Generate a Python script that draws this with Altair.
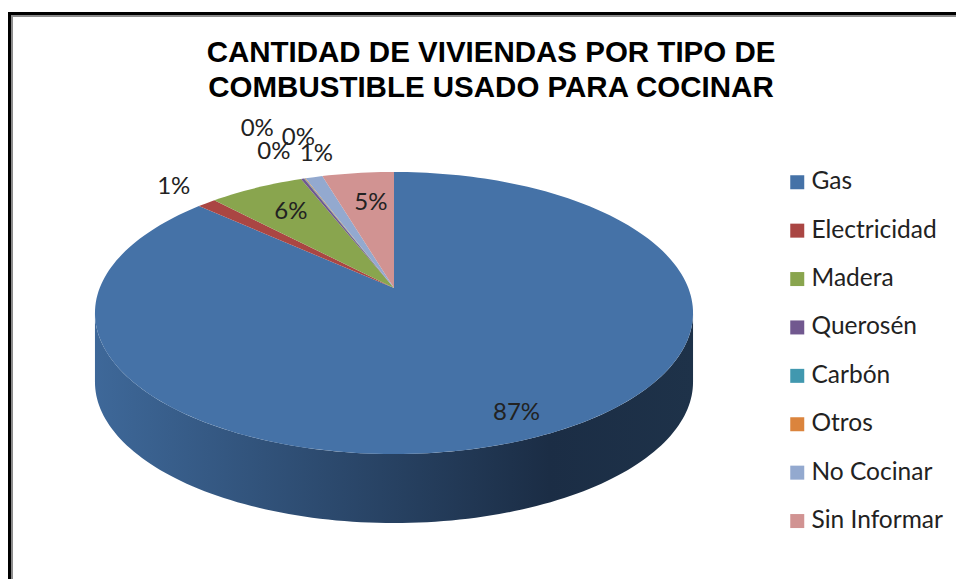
import math
import altair as alt

categories = ["Gas", "Electricidad", "Madera", "Querosén", "Carbón", "Otros", "No Cocinar", "Sin Informar"]
shares = [86.7, 1.2, 6.1, 0.2, 0.05, 0.05, 1.1, 4.6]
labels = ["87%", "1%", "6%", "0%", "0%", "0%", "1%", "5%"]
colors = ["#4572a7", "#aa4643", "#89a54e", "#71588f", "#4198af", "#db843d", "#93a9cf", "#d19392"]

# layout of the tilted pie (plot-area pixels; the page margin is 8px)
CX, CY = 386.0, 280.0
SX, SY, P = 294.3, 136.6, 0.1773
DEPTH = 69
label_radius = [0.86, 1.22, 0.74, 1.60, 1.32, 1.44, 1.25, 0.72]
label_shift = [-0.7, 0.7, 0.8, -0.3, -1.3, 4.3, 3.7, 1.2]


def project(angle_deg, r=1.0):
    a = math.radians(angle_deg)
    X, Y = r * math.sin(a), r * math.cos(a)
    d = 1 + P * Y
    return [CX + SX * X / d, CY - SY * Y / d]


features = []
label_rows = []
start = 0.0
for i, name in enumerate(categories):
    end = start + shares[i]
    a0, a1 = start * 3.6, end * 3.6
    n = max(2, int((a1 - a0) / 1.5))
    ring = [[CX, CY]] + [project(a0 + (a1 - a0) * k / n) for k in range(n + 1)] + [[CX, CY]]
    features.append({"type": "Feature", "properties": {"name": name},
                     "geometry": {"type": "Polygon", "coordinates": [ring]}})
    lon, lat = project((a0 + a1) / 2 + label_shift[i], label_radius[i])
    label_rows.append({"lon": lon, "lat": lat, "label": labels[i]})
    start = end

edge = math.degrees(math.acos(-P))
steps = 120
front = [project(edge + (360 - 2 * edge) * k / steps) for k in range(steps + 1)]
back = [[x, y + DEPTH] for x, y in reversed(front)]
side_ring = front + back + [front[0]]
side_feature = {"type": "Feature", "properties": {"name": "lado"},
                "geometry": {"type": "Polygon", "coordinates": [side_ring]}}

proj = dict(type="identity", scale=1, translate=[0, 0])
FONT = "Lato"

side = alt.Chart(alt.InlineData(values={"type": "FeatureCollection", "features": [side_feature]},
                                format=alt.DataFormat(property="features", type="json"))).mark_geoshape(
    strokeWidth=0,
    fill=alt.Gradient(gradient="linear", x1=0, x2=1, y1=0, y2=0, stops=[
        alt.GradientStop(color="#3e6899", offset=0),
        alt.GradientStop(color="#1b2d45", offset=0.76),
        alt.GradientStop(color="#1e3249", offset=1),
    ]),
).project(**proj)

slices = alt.Chart(alt.InlineData(values={"type": "FeatureCollection", "features": features},
                                  format=alt.DataFormat(property="features", type="json"))).mark_geoshape(
    strokeWidth=0,
).encode(
    color=alt.Color("properties.name:N", title=None,
                    scale=alt.Scale(domain=categories, range=colors),
                    legend=alt.Legend(orient="none", legendX=777, legendY=162, symbolType="square",
                                      symbolSize=196, symbolStrokeWidth=0, labelFont=FONT,
                                      labelFontSize=24.5, labelColor="#222222", labelOffset=2,
                                      rowPadding=23.4, labelLimit=200, padding=0,
                                      values=categories)),
).project(**proj)

text = alt.Chart(alt.Data(values=label_rows)).mark_text(
    font=FONT, fontSize=24, color="#222222", align="center", baseline="middle", dy=1.5,
).encode(longitude="lon:Q", latitude="lat:Q", text="label:N").project(**proj)

frame_dummy = alt.Data(values=[{"k": 0}])
frame = [
    alt.Chart(frame_dummy).mark_rule(color="#000000", strokeWidth=3).encode(
        x=alt.value(1.5), y=alt.value(4), y2=alt.value(579)),
    alt.Chart(frame_dummy).mark_rule(color="#000000", strokeWidth=3).encode(
        x=alt.value(0), x2=alt.value(948), y=alt.value(5.5)),
    alt.Chart(frame_dummy).mark_rule(color="#8c8c8c", strokeWidth=2).encode(
        x=alt.value(4), y=alt.value(7), y2=alt.value(579)),
    alt.Chart(frame_dummy).mark_rule(color="#8c8c8c", strokeWidth=2).encode(
        x=alt.value(3), x2=alt.value(948), y=alt.value(8)),
]

chart = alt.layer(side, slices, text, *frame).properties(
    width=948, height=571,
    padding=0,
    autosize=alt.AutoSizeParams(type="none"),
    title=alt.TitleParams(
        text=["CANTIDAD DE VIVIENDAS POR TIPO DE", "COMBUSTIBLE USADO PARA COCINAR"],
        font="Liberation Sans", fontSize=29.5, fontWeight="bold", color="#000000",
        anchor="start", align="center", frame="group", dx=483, dy=122, baseline="alphabetic", lineHeight=35,
    ),
).configure_view(stroke=None)

chart.save("out.html", embed_options={"renderer": "svg", "actions": False})
